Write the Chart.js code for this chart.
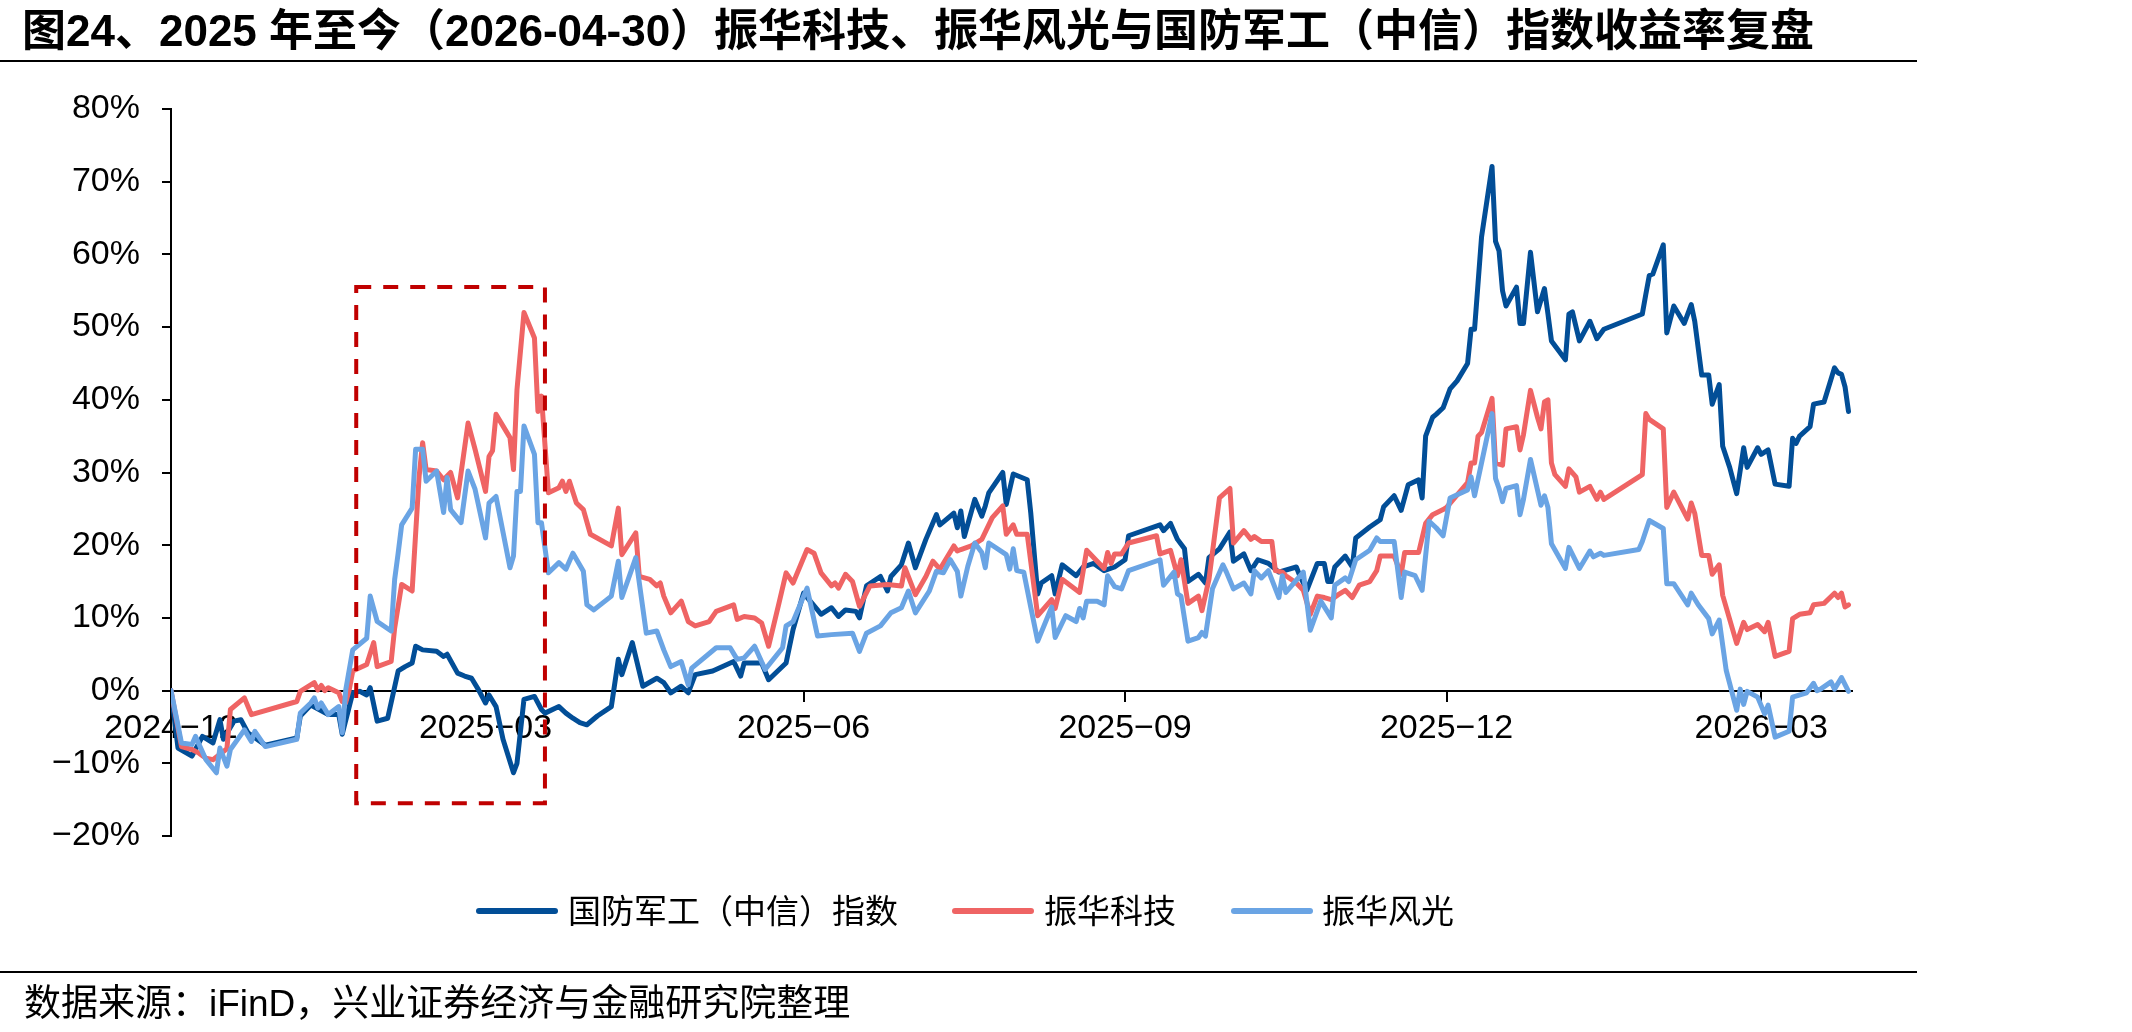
<!DOCTYPE html>
<html><head><meta charset="utf-8">
<script src="https://cdn.jsdelivr.net/npm/chart.js@4.4.1/dist/chart.umd.min.js"></script>
<style>
html,body{margin:0;padding:0;background:#fff;}
#wrap{position:relative;width:2132px;height:1032px;overflow:hidden;background:#fff;}
#chart{position:absolute;left:0;top:0;}
#title{position:absolute;left:22px;top:9px;font-weight:bold;font-size:44px;line-height:44px;font-family:"Liberation Sans","Noto Sans CJK SC",sans-serif;white-space:nowrap;color:#000;}
.rule{position:absolute;left:0;width:1917px;height:2px;background:#000;}
#source{position:absolute;left:24px;top:985px;font-size:37px;line-height:37px;font-family:"Liberation Sans","Noto Sans CJK SC",sans-serif;white-space:nowrap;color:#000;}
.lg-mark{position:absolute;height:6px;width:82px;border-radius:3px;}
.lg-text{position:absolute;font-size:33px;line-height:33px;font-family:"Noto Sans CJK SC",sans-serif;white-space:nowrap;color:#000;}
</style></head>
<body>
<div id="wrap">
  <canvas id="chart" width="2132" height="1032"></canvas>
  <div id="title">图24、2025 年至今（2026-04-30）振华科技、振华风光与国防军工（中信）指数收益率复盘</div>
  <div class="rule" style="top:60px"></div>
  <div id="legend"></div>
  <div class="rule" style="top:971px"></div>
  <div id="source">数据来源：iFinD，兴业证券经济与金融研究院整理</div>
</div>
<script>
// ---- data (x = calendar days since startDate, y = cumulative return %) ----
const startDate = '2024-12-31';
const tickDates = ['2024-12-31','2025-03-31','2025-06-30','2025-09-30','2025-12-31','2026-03-31'];
const tickLabels = ['2024−12','2025−03','2025−06','2025−09','2025−12','2026−03'];
const seriesNames = ['国防军工（中信）指数','振华科技','振华风光'];
const seriesColors = ['#024E97','#EF6464','#6AA4E4'];

const defenseSeries = [[0,0],[2,-7.9],[6,-9.0],[9,-6.3],[12,-7.2],[14,-4.0],[15,-6.7],[18,-4.2],[20,-4.0],[22,-5.8],[27,-7.5],[36,-6.5],[37,-3.5],[40,-2.0],[45,-3.3],[48,-3.3],[49,-6.0],[52,-0.3],[54,-0.1],[56,-0.6],[57,0.4],[59,-4.2],[62,-3.8],[65,2.7],[67,3.3],[69,3.8],[70,6.1],[72,5.6],[76,5.4],[78,4.7],[79,5.0],[82,2.4],[84,2.0],[86,1.7],[88,0.1],[90,-1.7],[91,-0.6],[93,-2.2],[95,-6.7],[98,-11.3],[99,-10.0],[101,-1.2],[104,-0.8],[106,-2.6],[107,-3.1],[111,-2.2],[113,-3.1],[115,-3.8],[117,-4.4],[119,-4.7],[122,-3.5],[126,-2.2],[128,4.3],[129,2.2],[132,6.6],[135,0.6],[139,1.7],[141,1.1],[143,-0.3],[146,0.6],[148,-0.3],[150,2.2],[155,2.7],[161,4.0],[163,2.0],[164,3.8],[169,3.8],[171,1.5],[176,3.8],[178,8.4],[181,13.4],[185,11.1],[186,10.5],[189,11.4],[191,10.2],[193,11.1],[196,10.9],[197,10.0],[199,14.4],[203,15.7],[205,13.7],[206,15.7],[209,17.3],[211,20.3],[213,16.9],[216,20.8],[219,24.2],[220,22.8],[224,24.4],[225,22.4],[226,24.7],[227,21.2],[230,26.3],[232,24.0],[233,25.4],[234,27.2],[238,30.0],[239,25.6],[241,29.8],[245,29.0],[246,24.5],[248,13.3],[249,14.8],[252,15.8],[253,13.3],[255,17.3],[259,15.8],[261,17.0],[264,17.5],[267,16.5],[270,17.0],[273,18.0],[274,21.3],[283,22.8],[284,22.0],[286,23.0],[288,20.8],[290,19.5],[291,15.0],[294,16.0],[296,14.8],[297,18.3],[300,19.5],[303,21.8],[304,17.8],[307,18.8],[309,16.5],[311,18.0],[314,17.5],[317,16.3],[322,17.0],[323,15.8],[325,13.8],[328,17.5],[330,17.5],[331,15.0],[332,15.0],[333,17.0],[336,18.5],[338,17.0],[339,21.0],[343,22.5],[346,23.5],[347,25.3],[350,26.8],[352,24.8],[354,28.3],[357,29.0],[358,26.5],[359,35.0],[361,37.6],[362,38.0],[364,38.9],[366,41.5],[368,42.6],[371,45.0],[372,49.7],[373,49.7],[375,62.4],[378,72.1],[379,61.8],[380,60.5],[381,55.0],[382,52.9],[385,55.5],[386,50.5],[387,50.5],[389,60.3],[391,52.1],[393,55.3],[394,51.8],[395,48.1],[399,45.5],[400,51.8],[401,52.1],[403,48.1],[406,50.8],[408,48.4],[410,49.7],[421,51.8],[422,54.5],[423,57.1],[424,57.3],[427,61.3],[428,49.2],[430,52.9],[433,50.5],[435,53.1],[436,50.8],[438,43.4],[440,43.4],[441,39.4],[443,42.1],[444,33.6],[446,30.7],[448,27.1],[450,33.4],[451,30.7],[454,33.4],[455,32.5],[457,33.1],[459,28.4],[463,28.1],[464,34.7],[465,34.0],[466,35.0],[469,36.3],[470,39.4],[473,39.7],[476,44.4],[477,43.7],[478,43.5],[479,41.8],[480,38.4]];

const zhkjSeries = [[0,0],[3,-7.7],[6,-8.1],[8,-8.6],[10,-9.3],[12,-9.5],[16,-8.0],[17,-2.6],[21,-1.0],[23,-3.3],[36,-1.5],[37,-0.1],[41,1.1],[42,0.1],[43,0.7],[44,0.0],[45,0.4],[48,-0.3],[49,-1.5],[50,-1.6],[51,0.1],[52,2.7],[56,3.6],[58,6.6],[59,3.3],[63,4.0],[64,8.6],[66,14.6],[69,13.7],[71,29.5],[72,34.1],[73,30.4],[76,30.2],[78,29.0],[80,30.0],[82,26.5],[85,36.8],[87,33.2],[90,27.4],[91,32.2],[92,33.0],[93,38.0],[97,34.8],[98,30.4],[99,41.4],[101,52.0],[104,48.5],[105,38.4],[106,40.5],[108,27.2],[111,27.9],[112,28.8],[113,27.4],[114,28.8],[116,25.8],[118,24.9],[120,21.5],[126,19.9],[128,25.1],[129,18.7],[133,21.7],[134,15.7],[137,15.3],[139,14.4],[140,14.8],[141,13.0],[143,10.7],[146,12.3],[148,9.5],[150,8.9],[154,9.5],[156,10.9],[161,11.8],[162,9.8],[164,10.2],[167,10.0],[169,9.3],[171,6.1],[174,12.1],[176,16.2],[178,14.8],[182,19.4],[184,18.9],[186,16.2],[189,14.4],[190,14.8],[191,14.1],[193,16.0],[195,15.0],[197,11.6],[200,14.4],[205,14.6],[209,14.4],[210,16.9],[213,13.2],[216,15.7],[218,17.8],[220,16.7],[224,19.9],[225,19.2],[226,19.4],[229,19.9],[232,20.8],[235,23.8],[238,25.4],[239,21.5],[241,22.8],[242,21.5],[245,21.5],[248,10.3],[252,12.5],[253,11.3],[255,15.3],[260,13.5],[262,19.3],[265,17.8],[267,16.8],[268,19.0],[269,17.5],[270,18.8],[272,18.8],[274,20.3],[282,21.3],[283,18.8],[286,19.3],[288,15.8],[289,18.0],[291,12.0],[294,13.0],[295,11.0],[297,15.3],[300,26.5],[303,27.8],[304,20.3],[307,22.0],[309,20.8],[310,21.2],[312,20.5],[315,20.5],[316,16.5],[318,16.3],[319,15.8],[322,14.8],[324,13.8],[326,10.5],[328,13.0],[330,12.8],[332,12.5],[334,13.2],[336,13.8],[338,12.8],[340,14.5],[343,15.0],[345,16.5],[346,18.5],[350,18.5],[352,16.0],[353,19.0],[357,19.0],[359,23.0],[361,24.2],[364,24.9],[365,25.2],[371,28.6],[372,31.3],[373,31.3],[374,35.0],[375,35.5],[378,40.2],[379,31.3],[381,31.0],[382,36.0],[385,36.3],[386,33.1],[387,35.2],[389,41.3],[391,37.6],[392,36.0],[393,39.7],[394,40.0],[395,31.3],[396,29.7],[399,28.1],[400,30.5],[402,29.4],[403,27.3],[406,28.1],[408,26.3],[409,27.3],[410,26.3],[421,29.7],[422,38.1],[423,37.3],[427,36.0],[428,25.2],[430,27.3],[434,23.6],[435,25.8],[436,24.4],[438,18.6],[440,18.6],[441,16.0],[443,17.3],[444,13.1],[448,6.5],[450,9.4],[451,8.4],[454,9.1],[456,8.1],[457,9.4],[459,4.7],[463,5.4],[464,9.9],[466,10.5],[469,10.7],[470,11.8],[473,12.0],[476,13.4],[477,12.8],[478,13.4],[479,11.5],[480,11.8]];

const zhfgSeries = [[0,0],[3,-7.2],[6,-7.4],[7,-6.3],[10,-9.5],[13,-11.3],[14,-7.9],[16,-10.4],[17,-8.1],[21,-5.4],[23,-7.0],[24,-5.6],[27,-7.7],[36,-6.7],[37,-3.1],[40,-1.7],[41,-1.0],[42,-2.4],[43,-1.7],[45,-3.3],[48,-2.2],[49,-5.8],[50,0.1],[52,5.6],[56,7.2],[57,13.0],[59,9.5],[63,8.2],[64,15.3],[65,18.9],[66,22.8],[69,25.1],[70,33.2],[72,33.2],[73,28.8],[76,30.2],[78,24.5],[79,29.3],[80,24.9],[83,23.1],[85,30.2],[87,27.7],[90,21.0],[91,25.8],[93,26.7],[97,16.9],[98,18.5],[99,27.4],[100,27.4],[101,36.4],[104,32.5],[105,23.1],[106,23.1],[108,16.2],[111,17.6],[113,16.7],[115,18.9],[118,16.4],[119,11.8],[121,11.1],[126,13.0],[128,17.8],[129,12.8],[133,18.3],[136,7.9],[139,8.2],[141,5.6],[143,3.3],[146,4.0],[148,0.8],[149,3.1],[156,5.9],[160,5.9],[162,4.3],[164,4.5],[167,6.1],[170,2.9],[175,5.9],[176,8.9],[178,9.5],[182,14.1],[185,7.5],[189,7.7],[195,7.9],[197,5.4],[199,7.9],[203,8.9],[206,10.7],[209,11.4],[211,13.7],[213,10.7],[217,13.7],[219,16.4],[221,16.2],[223,18.0],[225,16.4],[226,13.0],[228,17.1],[230,20.3],[232,19.0],[233,16.9],[234,20.3],[239,18.7],[240,16.7],[241,19.5],[242,16.5],[244,16.3],[246,11.5],[248,6.8],[252,11.5],[253,7.3],[256,10.3],[259,9.5],[260,11.3],[261,10.0],[262,12.3],[265,12.3],[267,11.8],[268,15.8],[270,14.3],[272,14.0],[274,16.5],[283,18.0],[284,14.5],[287,16.3],[288,13.3],[289,13.0],[291,6.8],[294,7.3],[295,8.0],[296,7.5],[298,14.0],[301,17.3],[302,16.3],[304,14.0],[307,14.8],[309,13.3],[310,16.5],[312,15.5],[314,16.5],[317,12.8],[318,15.8],[319,13.5],[324,16.3],[326,8.3],[329,12.3],[332,10.0],[333,14.5],[336,15.5],[337,15.0],[339,18.0],[343,19.3],[345,21.0],[346,20.5],[350,20.5],[352,12.8],[353,16.3],[356,15.8],[358,13.8],[360,23.3],[362,22.4],[364,21.3],[366,26.5],[371,27.6],[372,29.4],[373,26.8],[378,38.1],[379,29.2],[380,27.8],[381,26.0],[382,27.8],[385,28.2],[386,24.2],[387,26.3],[389,31.8],[392,25.5],[393,26.8],[394,25.2],[395,20.2],[399,16.8],[400,19.7],[403,16.8],[406,19.2],[407,18.4],[409,18.9],[410,18.6],[420,19.4],[421,20.5],[423,23.4],[427,22.3],[428,14.7],[430,14.7],[434,11.8],[435,13.4],[437,11.8],[440,9.9],[441,7.8],[443,9.7],[445,2.8],[448,-2.7],[449,0.2],[450,-1.9],[451,-0.1],[454,-0.9],[456,-3.2],[457,-2.0],[459,-6.4],[463,-5.6],[464,-0.9],[468,-0.3],[470,1.0],[471,0.0],[472,0.2],[475,1.2],[476,0.2],[478,1.8],[480,-0.1]];

// highlighted period (dashed box), in data units
const highlightFrom = '2025-02-22', highlightTo = '2025-04-17';
const highlightTop = 55.5, highlightBottom = -15.5;

// ---- helpers ----
const DAYMS = 86400000;
const t0 = Date.parse(startDate + 'T00:00:00Z');
const dayOf = s => Math.round((Date.parse(s + 'T00:00:00Z') - t0) / DAYMS);
const tickDays = tickDates.map(dayOf);
const toPts = arr => arr.map(p => ({x: p[0], y: p[1]}));
const allSeries = [defenseSeries, zhkjSeries, zhfgSeries];
const lastDay = Math.max(...allSeries.map(s => s[s.length - 1][0]));

const boxPlugin = {
  id: 'highlightBox',
  afterDatasetsDraw(chart) {
    const {ctx, scales: {x, y}} = chart;
    const l = x.getPixelForValue(dayOf(highlightFrom)), r = x.getPixelForValue(dayOf(highlightTo));
    const t = y.getPixelForValue(highlightTop), b = y.getPixelForValue(highlightBottom);
    ctx.save();
    ctx.strokeStyle = '#C00000';
    ctx.lineWidth = 4;
    ctx.setLineDash([15, 12]);
    ctx.strokeRect(l, t, r - l, b - t);
    ctx.restore();
  }
};

const tickFont = {family: '"Liberation Sans", Arial, sans-serif', size: 34};
const chart = new Chart(document.getElementById('chart'), {
  type: 'line',
  data: {
    datasets: allSeries.map((s, i) => ({
      label: seriesNames[i],
      data: toPts(s),
      borderColor: seriesColors[i],
      backgroundColor: seriesColors[i],
      borderWidth: 5,
      pointRadius: 0,
      tension: 0,
      borderJoinStyle: 'round',
      borderCapStyle: 'round',
      order: 2 - i
    }))
  },
  options: {
    responsive: false,
    animation: false,
    devicePixelRatio: 1,
    layout: {padding: {left: 0, right: 280, top: 109, bottom: 196}},
    plugins: {legend: {display: false}, title: {display: false}, tooltip: {enabled: false}},
    scales: {
      x: {
        type: 'linear', min: 0, max: lastDay + 1,
        position: {y: 0},
        afterBuildTicks: s => { s.ticks = tickDays.map(v => ({value: v})); },
        ticks: {autoSkip: false, maxRotation: 0, padding: 8, color: '#000', font: tickFont,
                callback: (v, i) => tickLabels[i]},
        grid: {display: true, drawOnChartArea: false, drawTicks: true, tickLength: 10, color: '#000', lineWidth: 2},
        border: {display: true, color: '#000', width: 2}
      },
      y: {
        min: -20, max: 80,
        afterFit: s => { s.width = 171; },
        ticks: {stepSize: 10, padding: 22, color: '#000', font: tickFont,
                callback: v => (v < 0 ? '−' : '') + Math.abs(v) + '%'},
        grid: {display: true, drawOnChartArea: false, tickLength: 9, color: '#000', lineWidth: 2},
        border: {display: true, color: '#000', width: 2}
      }
    }
  },
  plugins: [boxPlugin]
});

// legend built from the chart's datasets
const legendPos = [{m: 476, t: 568}, {m: 952, t: 1044}, {m: 1231, t: 1322}];
const lg = document.getElementById('legend');
chart.data.datasets.forEach((ds, i) => {
  const mk = document.createElement('div');
  mk.className = 'lg-mark';
  mk.style.left = legendPos[i].m + 'px'; mk.style.top = '908px';
  mk.style.background = ds.borderColor;
  const tx = document.createElement('div');
  tx.className = 'lg-text';
  tx.style.left = legendPos[i].t + 'px'; tx.style.top = '893px';
  tx.textContent = ds.label;
  lg.appendChild(mk); lg.appendChild(tx);
});
</script>
</body></html>
